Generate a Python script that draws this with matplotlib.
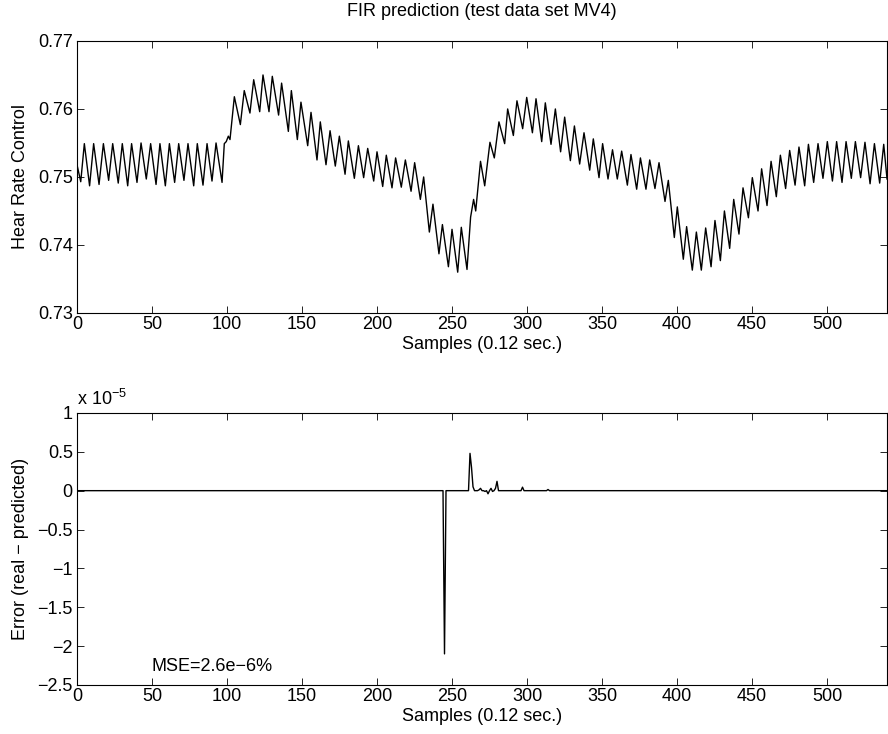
"""
FIR prediction on test data set MV4: predicted heart rate control signal
(top) and prediction error (bottom). Saves out.png.
"""
import matplotlib

matplotlib.use("Agg")
import matplotlib.pyplot as plt
import numpy as np
from matplotlib.ticker import FuncFormatter

# Top panel: turning points of the signal (sample index, value)
signal_samples = [
    0, 2.5, 4.9, 8.4, 11.1, 14.7, 17.6, 21.1, 23.8, 27.5, 30.2, 33.8, 36.4, 40.0,
    42.7, 46.2, 49.1, 52.7, 55.3, 58.9, 61.6, 65.1, 67.8, 71.3, 74.0, 77.8, 80.2,
    84.0, 86.7, 90.0, 92.7, 96.7, 98.2, 99.5, 100.9, 102.0, 104.9, 108.9, 111.5,
    115.3, 117.8, 121.8, 124.0, 128.0, 130.2, 134.4, 136.4, 140.9, 142.9, 146.9,
    149.3, 153.8, 156.0, 160.0, 162.2, 166.0, 168.7, 172.2, 174.9, 178.7, 180.9,
    184.9, 187.6, 191.1, 193.8, 197.8, 200.0, 203.8, 206.2, 210.0, 212.4, 216.2,
    218.9, 222.7, 225.1, 228.9, 231.1, 234.9, 237.3, 241.3, 243.6, 247.6, 250.0,
    253.8, 256.2, 260.0, 262.4, 264.4, 265.8, 269.0, 271.8, 275.3, 278.2, 281.3,
    285.1, 287.1, 290.9, 293.3, 297.1, 299.8, 303.6, 306.0, 309.8, 312.2, 316.0,
    318.9, 322.4, 325.1, 328.9, 331.6, 335.1, 338.0, 341.8, 344.2, 348.0, 350.4,
    354.0, 357.0, 360.2, 363.1, 366.9, 369.3, 373.1, 375.6, 379.3, 381.8, 385.3,
    388.0, 392.0, 394.2, 398.2, 400.2, 404.2, 406.4, 410.2, 412.9, 416.2, 419.1,
    422.7, 425.3, 428.9, 431.6, 435.1, 437.8, 441.3, 444.0, 447.6, 450.2, 454.0,
    456.4, 460.0, 462.7, 466.2, 468.9, 472.4, 475.1, 478.7, 481.3, 485.1, 487.6,
    491.1, 494.0, 497.3, 500.2, 503.6, 506.4, 510.0, 512.7, 516.2, 518.9, 522.4,
    525.3, 528.7, 531.6, 535.1, 537.8, 540.0,
]
signal_values = [
    0.7518, 0.7493, 0.7549, 0.7487, 0.7549, 0.7489, 0.7549, 0.7495, 0.7549,
    0.7491, 0.7549, 0.7487, 0.7549, 0.7492, 0.7550, 0.7497, 0.7549, 0.7489,
    0.7549, 0.7487, 0.7549, 0.7492, 0.7549, 0.7495, 0.7549, 0.7487, 0.7549,
    0.7488, 0.7549, 0.7494, 0.7550, 0.7492, 0.7549, 0.7552, 0.7560, 0.7555,
    0.7618, 0.7577, 0.7627, 0.7594, 0.7643, 0.7596, 0.7650, 0.7596, 0.7648,
    0.7591, 0.7638, 0.7567, 0.7627, 0.7555, 0.7610, 0.7546, 0.7595, 0.7525,
    0.7581, 0.7518, 0.7568, 0.7516, 0.7560, 0.7504, 0.7553, 0.7498, 0.7546,
    0.7499, 0.7542, 0.7494, 0.7537, 0.7486, 0.7532, 0.7484, 0.7528, 0.7485,
    0.7525, 0.7479, 0.7521, 0.7467, 0.7500, 0.7419, 0.7460, 0.7387, 0.7430,
    0.7368, 0.7423, 0.7360, 0.7426, 0.7364, 0.7441, 0.7467, 0.7450, 0.7523,
    0.7487, 0.7551, 0.7528, 0.7581, 0.7549, 0.7600, 0.7561, 0.7612, 0.7571,
    0.7617, 0.7565, 0.7615, 0.7552, 0.7609, 0.7548, 0.7600, 0.7537, 0.7588,
    0.7524, 0.7575, 0.7519, 0.7565, 0.7510, 0.7556, 0.7499, 0.7549, 0.7497,
    0.7540, 0.7497, 0.7538, 0.7488, 0.7533, 0.7482, 0.7528, 0.7482, 0.7525,
    0.7483, 0.7521, 0.7464, 0.7495, 0.7411, 0.7456, 0.7379, 0.7427, 0.7363,
    0.7419, 0.7363, 0.7425, 0.7368, 0.7436, 0.7377, 0.7450, 0.7395, 0.7467,
    0.7416, 0.7484, 0.7440, 0.7499, 0.7450, 0.7512, 0.7458, 0.7523, 0.7471,
    0.7532, 0.7483, 0.7539, 0.7488, 0.7544, 0.7487, 0.7548, 0.7492, 0.7549,
    0.7498, 0.7552, 0.7494, 0.7552, 0.7492, 0.7552, 0.7498, 0.7552, 0.7499,
    0.7551, 0.7490, 0.7549, 0.7491, 0.7548, 0.7497,
]

# Bottom panel: error is zero except at these samples (units of 1e-5)
n_samples = 541
error_samples = [244, 245, 246, 261, 262, 263, 264, 265, 268, 269, 270, 272,
                 274, 276, 277, 279, 280, 281, 296, 297, 298, 314]
error_values = [0.0, -2.1, 0.0, 0.0, 0.48, 0.30, 0.05, 0.0, 0.01, 0.03, 0.0,
                -0.01, -0.04, 0.03, -0.01, 0.03, 0.12, 0.0, 0.0, 0.045, 0.0,
                0.015]

x_ticks = [0, 50, 100, 150, 200, 250, 300, 350, 400, 450, 500]
top_yticks = [0.73, 0.74, 0.75, 0.76, 0.77]
bottom_yticks = [-2.5, -2, -1.5, -1, -0.5, 0, 0.5, 1]

FONT = "Liberation Sans"
FS = 13


def style_axes(ax):
    ax.tick_params(direction="in", length=5, width=0.6, top=True, right=True,
                   labelsize=FS, pad=3)
    ax.tick_params(axis="x", pad=2.5)
    for sp in ax.spines.values():
        sp.set_linewidth(0.8)


def g_fmt(v, _pos):
    return ("%g" % v).replace("-", "\u2212")


def main():
    plt.rcParams["font.family"] = [FONT, "DejaVu Sans"]
    plt.rcParams["mathtext.fontset"] = "custom"
    plt.rcParams["mathtext.rm"] = FONT
    fig = plt.figure(figsize=(8.88, 7.34), dpi=100)

    # top: measured signal
    ax1 = fig.add_axes([0.0867, 0.5736, 0.9122, 0.3706])
    ax1.plot(signal_samples, signal_values, color="black", linewidth=1.0)
    ax1.set_xlim(0, 540)
    ax1.set_ylim(0.73, 0.77)
    ax1.set_xticks(x_ticks)
    ax1.set_yticks(top_yticks)
    ax1.yaxis.set_major_formatter(FuncFormatter(lambda v, p: "%.2f" % v))
    ax1.set_xlabel("Samples (0.12 sec.)", fontsize=FS, labelpad=1.5)
    ax1.set_ylabel("Hear Rate Control", fontsize=FS, labelpad=6)
    ax1.set_title("FIR prediction (test data set MV4)", fontsize=FS, pad=18)
    style_axes(ax1)

    # bottom: prediction error
    err = np.zeros(n_samples)
    err[error_samples] = error_values
    ax2 = fig.add_axes([0.0867, 0.0668, 0.9122, 0.3706])
    ax2.plot(np.arange(n_samples), err, color="black", linewidth=1.0)
    ax2.set_xlim(0, 540)
    ax2.set_ylim(-2.5, 1)
    ax2.set_xticks(x_ticks)
    ax2.set_yticks(bottom_yticks)
    ax2.yaxis.set_major_formatter(FuncFormatter(g_fmt))
    ax2.set_xlabel("Samples (0.12 sec.)", fontsize=FS, labelpad=1.5)
    ax2.set_ylabel("Error (real \u2212 predicted)", fontsize=FS, labelpad=6)
    ax2.text(0, 1.015, r"x 10$^{\mathregular{-5}}$", transform=ax2.transAxes,
             fontsize=FS, ha="left", va="bottom")
    ax2.text(50, -2.26, "MSE=2.6e\u22126%", fontsize=FS, ha="left", va="center")
    style_axes(ax2)

    fig.savefig("out.png", dpi=100)
    plt.close(fig)


if __name__ == "__main__":
    main()
